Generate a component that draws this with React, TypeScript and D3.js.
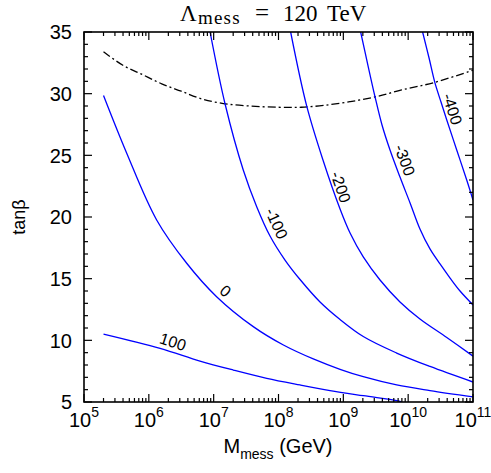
import React from "react";
import * as d3 from "d3";

const W = 491;
const H = 473;
const PL = 84, PR = 473, PT = 32, PB = 402;

const xDomain: [number, number] = [1e5, 1e11];
const yDomain: [number, number] = [5, 35];
const xTickExponents = [5, 6, 7, 8, 9, 10, 11];
const yTickValues = [5, 10, 15, 20, 25, 30, 35];

// Contour levels and their traced points (M_mess in GeV, tan beta)
const contourLevels = ["100", "0", "-100", "-200", "-300", "-400"];

const m_p100 = [2.0e5, 1.49e6, 6.15e6, 2.01e7, 6.58e7, 2.15e8, 6.24e8, 2.03e9, 6.65e9, 8.0e9];
const t_p100 = [10.51, 9.35, 8.32, 7.59, 6.92, 6.38, 5.93, 5.51, 5.105, 5.0];

const m_0 = [2.0e5, 4.56e5, 1.32e6, 3.84e6, 1.11e7, 4.08e7, 1.19e8, 3.44e8, 8.9e8, 2.03e9, 6.65e9, 2.17e10, 1e11];
const t_0 = [29.85, 25.17, 19.76, 16.25, 13.54, 11.11, 9.62, 8.49, 7.65, 7.05, 6.38, 5.92, 5.41];

const m_m100 = [8.8e6, 1.5e7, 2.86e7, 4.61e7, 7.4e7, 1.26e8, 2.15e8, 4.37e8, 8.9e8, 2.03e9, 6.65e9, 2.17e10, 1e11];
const t_m100 = [35, 29.16, 23.81, 20.84, 18.46, 16.51, 14.93, 13.11, 11.69, 10.31, 8.97, 7.88, 6.62];

const m_m200 = [1.54e8, 2.72e8, 4.91e8, 8.9e8, 1.27e9, 2.03e9, 3.68e9, 7.48e9, 1.52e10, 3.94e10, 1e11];
const t_m200 = [35, 29.01, 24.54, 20.65, 18.7, 16.76, 14.89, 13.11, 11.73, 10.23, 8.72];

const m_m300 = [1.85e9, 2.4e9, 3.08e9, 3.95e9, 5.25e9, 7.48e9, 1.07e10, 1.52e10, 2.17e10, 3.1e10, 4.43e10, 6.31e10, 1e11];
const t_m300 = [35, 32.28, 29.75, 27.46, 25.43, 23.24, 21.14, 19.03, 17.41, 16.19, 15.05, 14.0, 12.87];

const m_m400 = [1.67e10, 2.1e10, 2.59e10, 3.21e10, 3.94e10, 5.61e10, 8.0e10, 1e11];
const t_m400 = [35, 32.89, 30.87, 29.32, 27.87, 25.43, 23.0, 21.38];

// Dash-dot boundary
const m_bound = [2.0e5, 3.98e5, 7.94e5, 1.58e6, 3.16e6, 6.31e6, 1.41e7, 3.55e7, 1e8, 2.24e8, 5.01e8, 1.26e9, 3.16e9, 7.94e9, 2.51e10, 1e11];
const t_bound = [33.4, 32.3, 31.55, 30.8, 30.2, 29.6, 29.2, 29.0, 28.9, 28.9, 29.05, 29.35, 29.75, 30.3, 30.9, 31.9];

// Contour label centres (M_mess, tan beta)
const labelM = [2.36e6, 1.52e7, 9.38e7, 9.2e8, 8.93e9, 4.83e10];
const labelTan = [9.89, 14.0, 19.49, 22.43, 24.62, 28.76];

const contourM = [m_p100, m_0, m_m100, m_m200, m_m300, m_m400];
const contourT = [t_p100, t_0, t_m100, t_m200, t_m300, t_m400];

const sans = "'Liberation Sans', Arial, Helvetica, sans-serif";
const serif = "'Liberation Serif', 'Times New Roman', serif";

export default function App() {
  const x = d3.scaleLog().domain(xDomain).range([PL, PR]);
  const y = d3.scaleLinear().domain(yDomain).range([PB, PT]);

  const line = d3
    .line<[number, number]>()
    .x((d) => x(d[0]))
    .y((d) => y(d[1]))
    .curve(d3.curveCatmullRom.alpha(0.5));

  const contours = contourLevels.map((lev, i) => {
    const pts: [number, number][] = contourM[i].map((m, j) => [m, contourT[i][j]]);
    return { lev, pts };
  });
  const boundPts: [number, number][] = m_bound.map((m, j) => [m, t_bound[j]]);

  const xMinor: number[] = [];
  for (let e = 5; e < 11; e++) for (let k = 2; k <= 9; k++) xMinor.push(k * Math.pow(10, e));
  const yMinor = d3.range(5, 36, 1).filter((v) => v % 5 !== 0);

  const labelEls = contours.map((c, i) => {
    const cx = x(labelM[i]);
    const cy = y(labelTan[i]);
    const px = c.pts.map((p) => [x(p[0]), y(p[1])]);
    let best = 0;
    let bestD = Infinity;
    for (let j = 0; j < px.length - 1; j++) {
      const mx = (px[j][0] + px[j + 1][0]) / 2;
      const my = (px[j][1] + px[j + 1][1]) / 2;
      const d = (mx - cx) ** 2 + (my - cy) ** 2;
      if (d < bestD) {
        bestD = d;
        best = j;
      }
    }
    const ang = (Math.atan2(px[best + 1][1] - px[best][1], px[best + 1][0] - px[best][0]) * 180) / Math.PI;
    return (
      <text
        key={"lab" + i}
        x={cx}
        y={cy}
        dy="0.36em"
        textAnchor="middle"
        fontFamily={sans}
        fontSize={16}
        fill="#000"
        transform={`rotate(${ang.toFixed(1)},${cx.toFixed(1)},${cy.toFixed(1)})`}
      >
        {c.lev}
      </text>
    );
  });

  return (
    <svg width={W} height={H} style={{ position: "absolute", left: 0, top: 0, background: "#fff" }}>
      <defs>
        <clipPath id="plotclip">
          <rect x={PL} y={PT} width={PR - PL} height={PB - PT} />
        </clipPath>
      </defs>
      <rect x={0} y={0} width={W} height={H} fill="#fff" />
      {/* Title */}
      <text y={21} fontFamily={serif} fontSize={23} fill="#000">
        <tspan x={180}>Λ</tspan>
        <tspan x={198} dy={3} fontSize={19} letterSpacing={1.2}>mess</tspan>
        <tspan x={255} dy={-3} fontSize={25}>=</tspan>
        <tspan x={283}>120</tspan>
        <tspan x={327}>TeV</tspan>
      </text>

      <g clipPath="url(#plotclip)">
        <path d={line(boundPts) || ""} fill="none" stroke="#000" strokeWidth={1.3} strokeDasharray="8,3,2,3" />
        {contours.map((c) => (
          <path key={c.lev} d={line(c.pts) || ""} fill="none" stroke="#0000ff" strokeWidth={1.3} />
        ))}
      </g>
      {labelEls}

      <g stroke="#000" strokeWidth={1.2}>
        {xTickExponents.map((e) => {
          const xv = x(Math.pow(10, e));
          return (
            <g key={"xt" + e}>
              <line x1={xv} x2={xv} y1={PB} y2={PB - 8} />
              <line x1={xv} x2={xv} y1={PT} y2={PT + 8} />
            </g>
          );
        })}
        {xMinor.map((v, i) => {
          const xv = x(v);
          return (
            <g key={"xm" + i}>
              <line x1={xv} x2={xv} y1={PB} y2={PB - 4} />
              <line x1={xv} x2={xv} y1={PT} y2={PT + 4} />
            </g>
          );
        })}
        {yTickValues.map((v) => {
          const yv = y(v);
          return (
            <g key={"yt" + v}>
              <line x1={PL} x2={PL + 8} y1={yv} y2={yv} />
              <line x1={PR} x2={PR - 8} y1={yv} y2={yv} />
            </g>
          );
        })}
        {yMinor.map((v) => {
          const yv = y(v);
          return (
            <g key={"ym" + v}>
              <line x1={PL} x2={PL + 4} y1={yv} y2={yv} />
              <line x1={PR} x2={PR - 4} y1={yv} y2={yv} />
            </g>
          );
        })}
      </g>
      <rect x={PL} y={PT} width={PR - PL} height={PB - PT} fill="none" stroke="#000" strokeWidth={1.6} />

      {yTickValues.map((v) => (
        <text key={"yl" + v} x={72} y={y(v)} dy="0.36em" textAnchor="end" fontFamily={sans} fontSize={20} fill="#000">
          {v}
        </text>
      ))}
      {xTickExponents.map((e) => (
        <text key={"xl" + e} x={x(Math.pow(10, e))} y={427} textAnchor="middle" fontFamily={sans} fontSize={20} fill="#000">
          <tspan>10</tspan>
          <tspan dy={-10} fontSize={14}>{e}</tspan>
        </text>
      ))}

      <text x={278} y={453} textAnchor="middle" fontFamily={sans} fontSize={20} fill="#000">
        <tspan>M</tspan>
        <tspan dy={6} fontSize={14}>mess</tspan>
        <tspan dy={-6}> (GeV)</tspan>
      </text>
      <text
        transform={`translate(25,${(PT + PB) / 2}) rotate(-90)`}
        textAnchor="middle"
        fontFamily={sans}
        fontSize={18}
        fill="#000"
      >
        tanβ
      </text>
    </svg>
  );
}
